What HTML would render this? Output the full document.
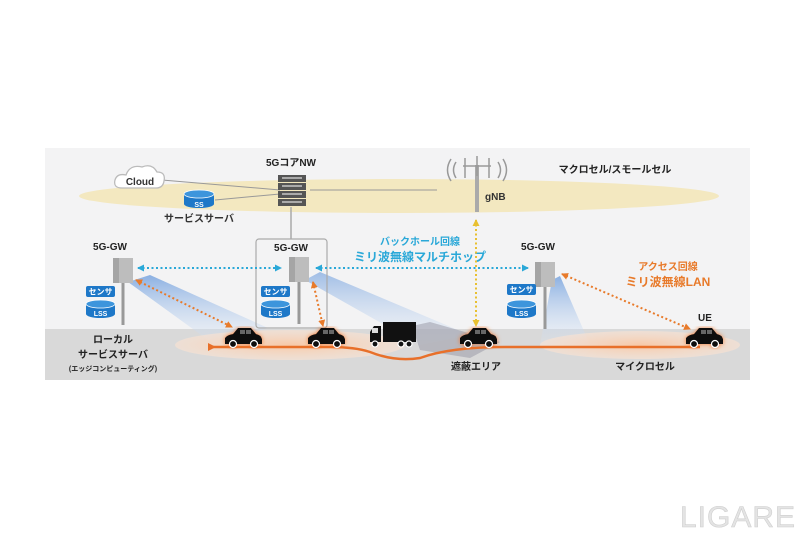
<!DOCTYPE html>
<html><head><meta charset="utf-8"><style>
html,body{margin:0;padding:0;background:#fff;width:800px;height:533px;overflow:hidden}
svg text{font-family:"Liberation Sans","Noto Sans CJK JP",sans-serif;font-weight:bold}
</style></head><body>
<svg width="800" height="533" viewBox="0 0 800 533" xmlns="http://www.w3.org/2000/svg">
<defs>
<linearGradient id="beam" x1="0" y1="0" x2="0" y2="1"><stop offset="0" stop-color="#7fa8e0" stop-opacity="0.9"/><stop offset="1" stop-color="#dce8f7" stop-opacity="0.2"/></linearGradient>
<radialGradient id="og" cx="0.5" cy="0.5" r="0.5"><stop offset="0" stop-color="#f7c9a8"/><stop offset="1" stop-color="#fbe3d2" stop-opacity="0.6"/></radialGradient>
<marker id="ab" markerUnits="userSpaceOnUse" markerWidth="7" markerHeight="7" refX="6" refY="3.5" orient="auto-start-reverse"><path d="M0,0L7,3.5L0,7z" fill="#2aa8d8"/></marker>
<marker id="ao" markerUnits="userSpaceOnUse" markerWidth="7" markerHeight="7" refX="6" refY="3.5" orient="auto-start-reverse"><path d="M0,0L7,3.5L0,7z" fill="#e87a2a"/></marker>
<marker id="ay" markerUnits="userSpaceOnUse" markerWidth="7" markerHeight="7" refX="6" refY="3.5" orient="auto-start-reverse"><path d="M0,0L7,3.5L0,7z" fill="#e8c030"/></marker>
<marker id="aor" markerUnits="userSpaceOnUse" markerWidth="8" markerHeight="8" refX="4" refY="4" orient="auto"><path d="M8,0L0,4L8,8z" fill="#e8702a"/></marker>
<g id="car"><path d="M-18,4 L-18,-2 Q-16,-5 -10,-6 L-5,-12 L8,-12 L13,-6 Q18,-5 19,-1 L19,4 Z" fill="#111"/><rect x="-3" y="-10" width="5" height="4" fill="#666"/><rect x="3" y="-10" width="5" height="4" fill="#666"/><circle cx="-10" cy="4" r="3.5" fill="#111" stroke="#fff" stroke-width="1.2"/><circle cx="11" cy="4" r="3.5" fill="#111" stroke="#fff" stroke-width="1.2"/></g>
<filter id="glow"><feDropShadow dx="0" dy="0" stdDeviation="2" flood-color="#f07020" flood-opacity="0.9"/></filter>
<g id="gw"><rect x="-1.5" y="20" width="3" height="45" fill="#999"/><rect x="-10" y="-2" width="20" height="25" fill="#bdbdbd"/><rect x="-10" y="-2" width="6" height="25" fill="#a5a5a5"/></g>
<g id="sen"><rect x="0" y="0" width="29" height="11" rx="2" fill="#1e78c8"/><text x="14.5" y="8.5" font-size="8" fill="#fff" text-anchor="middle">センサ</text></g>
<g id="lss"><path d="M0,4 L0,14 A14.5,4 0 0 0 29,14 L29,4 Z" fill="#1e78c8"/><ellipse cx="14.5" cy="4" rx="14.5" ry="4" fill="#3d95dc" stroke="#fff" stroke-width="0.8"/><text x="14.5" y="16" font-size="7" fill="#fff" text-anchor="middle">LSS</text></g>
</defs>
<rect x="45" y="148" width="705" height="232" fill="#f3f3f4"/>
<rect x="45" y="329" width="705" height="51" fill="#d9d9d9"/>
<ellipse cx="399" cy="196" rx="320" ry="17" fill="#f3e8c0"/>
<polygon points="128,282 150,275 268,328 215,345" fill="url(#beam)"/>
<polygon points="305,280 320,272 470,335 420,345" fill="url(#beam)" opacity="0.8"/>
<polygon points="552,280 560,276 590,345 540,345" fill="url(#beam)"/>
<polygon points="412,326 430,322 500,342 470,358 420,350" fill="#9a9aa8" opacity="0.55"/>
<ellipse cx="290" cy="345" rx="115" ry="15" fill="url(#og)"/>
<ellipse cx="640" cy="345" rx="100" ry="14" fill="url(#og)"/>
<path d="M700,347 L505,347 Q450,347 420,358 Q395,362 370,352 Q355,347 330,347 L212,347" fill="none" stroke="#e8702a" stroke-width="2.5" marker-end="url(#aor)"/>
<line x1="162" y1="180" x2="280" y2="190" stroke="#999" stroke-width="1"/>
<line x1="215" y1="200" x2="280" y2="194" stroke="#999" stroke-width="1"/>
<line x1="310" y1="190" x2="437" y2="190" stroke="#999" stroke-width="1"/>
<line x1="291" y1="207" x2="291" y2="239" stroke="#aaa" stroke-width="1.5"/>
<rect x="256" y="239" width="71" height="89" rx="3" fill="none" stroke="#aaa" stroke-width="1.2"/>
<path d="M122,188 Q113,188 115,180 Q117,173 126,175 Q130,164 142,167 Q152,163 157,172 Q166,172 164,181 Q163,188 156,188 Z" fill="#fff" stroke="#bbb" stroke-width="1.3"/>
<text x="140" y="185" font-size="10" fill="#333" text-anchor="middle">Cloud</text>
<path d="M184,194 L184,204 A15,4 0 0 0 214,204 L214,194 Z" fill="#1e78c8"/><ellipse cx="199" cy="194" rx="15" ry="4" fill="#3d95dc" stroke="#fff" stroke-width="0.8"/><text x="199" y="207" font-size="7" fill="#fff" text-anchor="middle">SS</text>
<text x="199" y="222" font-size="10" fill="#333" text-anchor="middle">サービスサーバ</text>
<text x="291" y="166" font-size="10" fill="#222" text-anchor="middle">5GコアNW</text>
<g fill="#555"><rect x="278" y="175" width="28" height="7"/><rect x="278" y="183" width="28" height="7"/><rect x="278" y="191" width="28" height="7"/><rect x="278" y="199" width="28" height="7"/></g>
<g fill="#aaa"><rect x="282" y="177" width="20" height="2"/><rect x="282" y="185" width="20" height="2"/><rect x="282" y="193" width="20" height="2"/><rect x="282" y="201" width="20" height="2"/></g>
<rect x="475" y="165" width="4" height="47" fill="#aaa"/>
<g stroke="#999" stroke-width="1.5" fill="none"><line x1="465" y1="158" x2="465" y2="178"/><line x1="489" y1="158" x2="489" y2="178"/><line x1="477" y1="156" x2="477" y2="176"/><line x1="463" y1="166" x2="491" y2="166"/><path d="M456,162 Q451,170 456,178"/><path d="M451,159 Q444,170 451,181"/><path d="M498,162 Q503,170 498,178"/><path d="M503,159 Q510,170 503,181"/></g>
<text x="485" y="200" font-size="10" fill="#333">gNB</text>
<text x="615" y="173" font-size="10" fill="#222" text-anchor="middle">マクロセル/スモールセル</text>
<use href="#gw" x="123" y="260"/><use href="#gw" x="299" y="259"/><use href="#gw" x="545" y="264"/>
<text x="110" y="250" font-size="10" fill="#222" text-anchor="middle">5G-GW</text>
<text x="291" y="251" font-size="10" fill="#222" text-anchor="middle">5G-GW</text>
<text x="538" y="250" font-size="10" fill="#222" text-anchor="middle">5G-GW</text>
<use href="#sen" x="86" y="286"/><use href="#lss" x="86" y="300"/>
<use href="#sen" x="261" y="286"/><use href="#lss" x="261" y="300"/>
<use href="#sen" x="507" y="284"/><use href="#lss" x="507" y="300"/>
<line x1="138" y1="268" x2="281" y2="268" stroke="#2aa8d8" stroke-width="2" stroke-dasharray="2,2.5" marker-start="url(#ab)" marker-end="url(#ab)"/>
<line x1="316" y1="268" x2="528" y2="268" stroke="#2aa8d8" stroke-width="2" stroke-dasharray="2,2.5" marker-start="url(#ab)" marker-end="url(#ab)"/>
<text x="420" y="245" font-size="10" fill="#2aa8d8" text-anchor="middle">バックホール回線</text>
<text x="420" y="261" font-size="12" fill="#2aa8d8" text-anchor="middle">ミリ波無線マルチホップ</text>
<line x1="476" y1="220" x2="476" y2="326" stroke="#e8c030" stroke-width="2" stroke-dasharray="2,2.5" marker-start="url(#ay)" marker-end="url(#ay)"/>
<text x="668" y="270" font-size="10" fill="#e87a2a" text-anchor="middle">アクセス回線</text>
<text x="668" y="286" font-size="12" fill="#e87a2a" text-anchor="middle">ミリ波無線LAN</text>
<line x1="562" y1="274" x2="690" y2="329" stroke="#e87a2a" stroke-width="2" stroke-dasharray="2,2.5" marker-start="url(#ao)" marker-end="url(#ao)"/>
<line x1="136" y1="280" x2="232" y2="327" stroke="#e87a2a" stroke-width="2" stroke-dasharray="2,2.5" marker-start="url(#ao)" marker-end="url(#ao)"/>
<line x1="313" y1="282" x2="323" y2="326" stroke="#e87a2a" stroke-width="2" stroke-dasharray="2,2.5" marker-start="url(#ao)" marker-end="url(#ao)"/>
<g filter="url(#glow)"><use href="#car" x="243" y="340"/><use href="#car" x="326" y="340"/><use href="#car" x="478" y="340"/><use href="#car" x="704" y="340"/></g>
<rect x="383" y="322" width="33" height="20" fill="#111"/><path d="M370,342 L370,332 L374,326 L381,326 L381,342 Z" fill="#111"/><rect x="372" y="328" width="6" height="5" fill="#ddd"/>
<g fill="#111" stroke="#fff" stroke-width="1.2"><circle cx="375" cy="344" r="3"/><circle cx="401" cy="344" r="3"/><circle cx="409" cy="344" r="3"/></g>
<text x="705" y="321" font-size="10" fill="#222" text-anchor="middle">UE</text>
<text x="113" y="343" font-size="10" fill="#222" text-anchor="middle">ローカル</text>
<text x="113" y="358" font-size="10" fill="#222" text-anchor="middle">サービスサーバ</text>
<text x="113" y="371" font-size="7" fill="#222" text-anchor="middle" font-weight="normal">(エッジコンピューティング)</text>
<text x="476" y="370" font-size="10" fill="#222" text-anchor="middle">遮蔽エリア</text>
<text x="645" y="370" font-size="10" fill="#222" text-anchor="middle">マイクロセル</text>
<text x="738" y="527" font-size="30" fill="#e4e4e4" stroke="#cfcfcf" stroke-width="0.6" text-anchor="middle" style="font-weight:normal;letter-spacing:1px">LIGARE</text>
</svg>
</body></html>
